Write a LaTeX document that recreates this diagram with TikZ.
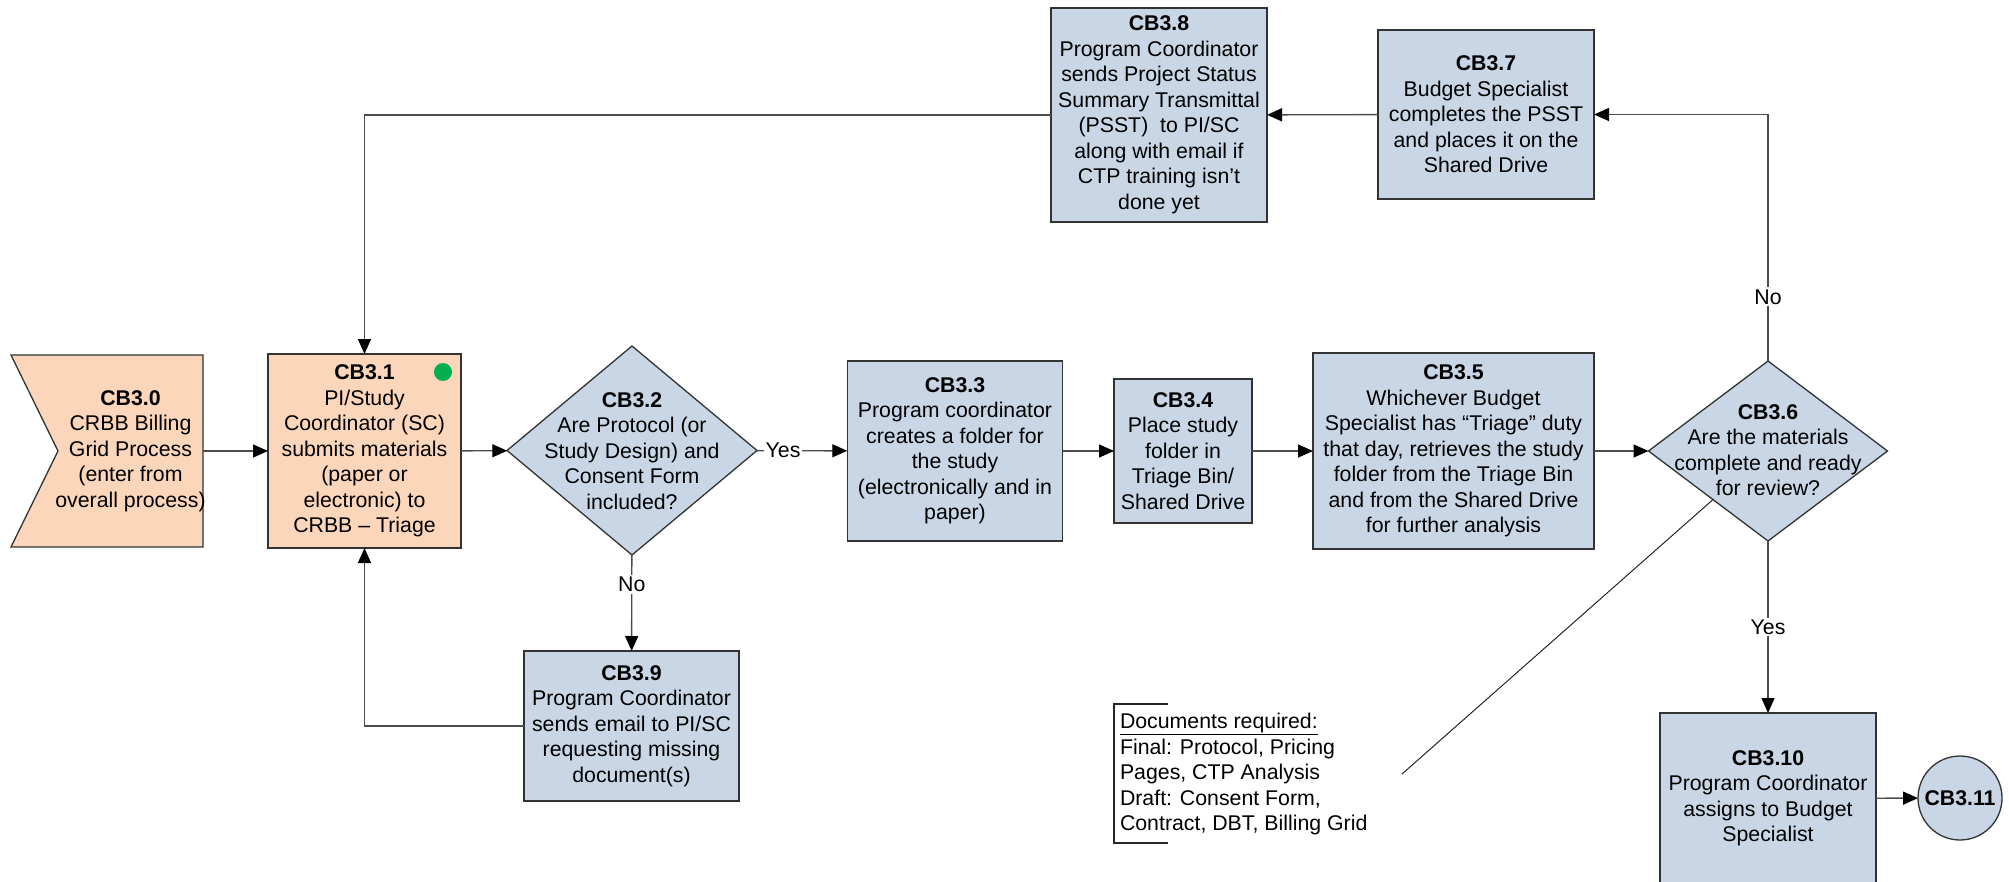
\documentclass[tikz,border=0pt]{standalone}
\usepackage{fontspec}
\setmainfont{Liberation Sans}
\usetikzlibrary{arrows.meta,shapes.geometric}
\definecolor{peach}{RGB}{251,214,186}
\definecolor{paleblue}{RGB}{200,214,230}
\definecolor{dotgreen}{RGB}{0,176,80}
\begin{document}
\begin{tikzpicture}[x=1pt,y=-1pt,
  txt/.style={font=\fontsize{21.3}{25.5}\selectfont, align=center, inner sep=0pt, outer sep=0pt},
  proc/.style={txt, draw=black!80, line width=1.3pt, fill=paleblue, inner sep=2pt},
  startbox/.style={proc, fill=peach},
  decide/.style={diamond, draw=black!80, line width=1.3pt, fill=paleblue, inner sep=0pt, outer sep=0pt},
  flow/.style={draw=black!70, line width=1.4pt, -{Triangle[length=15pt,width=13pt,color=black]}},
  lbl/.style={txt, fill=white, inner sep=2pt},
]
\useasboundingbox (0,0) rectangle (2009,882);

% entry from the overall process (notched box)
\node[minimum width=192pt, minimum height=192pt, inner sep=0pt, outer sep=0pt] (cb30) at (107,451) {};
\filldraw[fill=peach, draw=black!80, line width=1.3pt]
  (cb30.north west) -- (cb30.north east) -- (cb30.south east) -- (cb30.south west)
  -- ([xshift=47pt]cb30.west) -- cycle;
\node[txt] (cb30text) at (130.5,451) {\textbf{CB3.0}\\CRBB Billing\\Grid Process\\(enter from\\overall process)};

% process steps
\node[startbox, minimum width=193pt, minimum height=194pt] (cb31) at (364.5,451)
  {\textbf{CB3.1}\\PI/Study\\Coordinator (SC)\\submits materials\\(paper or\\electronic) to\\CRBB – Triage};
\node[circle, fill=dotgreen, minimum size=18pt, inner sep=0pt] (dot) at (443,372) {};

\node[decide, minimum width=250pt, minimum height=209pt] (cb32) at (632,450.5) {};
\node[txt] (cb32text) at (632,451) {\textbf{CB3.2}\\Are Protocol (or\\Study Design) and\\Consent Form\\included?};

\node[proc, minimum width=215.5pt, minimum height=180pt] (cb33) at (955,451)
  {\textbf{CB3.3}\\Program coordinator\\creates a folder for\\the study\\(electronically and in\\paper)};
\node[proc, minimum width=138pt, minimum height=144pt] (cb34) at (1183,451)
  {\textbf{CB3.4}\\Place study\\folder in\\Triage Bin/\\Shared Drive};
\node[proc, minimum width=281pt, minimum height=196pt] (cb35) at (1453.5,451)
  {\textbf{CB3.5}\\Whichever Budget\\Specialist has “Triage” duty\\that day, retrieves the study\\folder from the Triage Bin\\and from the Shared Drive\\for further analysis};

\node[decide, minimum width=239pt, minimum height=180pt] (cb36) at (1768,451) {};
\node[txt] (cb36text) at (1768,450) {\textbf{CB3.6}\\Are the materials\\complete and ready\\for review?};

\node[proc, minimum width=216pt, minimum height=169pt] (cb37) at (1486,114.5)
  {\textbf{CB3.7}\\Budget Specialist\\completes the PSST\\and places it on the\\Shared Drive};
\node[proc, minimum width=216pt, minimum height=214pt] (cb38) at (1159,115)
  {\textbf{CB3.8}\\Program Coordinator\\sends Project Status\\Summary Transmittal\\(PSST)\ \ to PI/SC\\along with email if\\CTP training isn’t\\done yet};
\node[proc, minimum width=215pt, minimum height=150pt] (cb39) at (631.5,726)
  {\textbf{CB3.9}\\Program Coordinator\\sends email to PI/SC\\requesting missing\\document(s)};
\node[proc, minimum width=216pt, minimum height=171pt] (cb310) at (1768,798.5)
  {\textbf{CB3.10}\\Program Coordinator\\assigns to Budget\\Specialist};
\node[txt, circle, draw=black!80, line width=1.3pt, fill=paleblue, minimum size=84pt] (cb311) at (1960,798)
  {\textbf{CB3.11}};

% annotation listing the required documents
\node[txt, align=left, anchor=west] (note) at (1120,774)
  {\underline{Documents required:}\\Final: Protocol, Pricing\\Pages, CTP Analysis\\Draft: Consent Form,\\Contract, DBT, Billing Grid};
\coordinate (bracktop) at (1168,704);
\coordinate (brackbot) at (1168,843);
\draw[black!85, line width=1.2pt] (bracktop) -- (1114,704) -- (1114,843) -- (brackbot);
\coordinate (noteend) at (1402,774);
\draw[black!85, line width=1pt] (cb36) -- (noteend);

% connectors
\draw[flow] (cb30.east) -- (cb31.west);
\draw[flow] (cb31) -- (cb32);
\draw[flow] (cb32) -- node[lbl, pos=0.29] (yes1) {Yes} (cb33);
\draw[flow] (cb32) -- node[lbl, pos=0.31] (no1) {No} (cb39);
\draw[flow] (cb39.west) -| (cb31.south);
\draw[flow] (cb33) -- (cb34);
\draw[flow] (cb34) -- (cb35);
\draw[flow] (cb35) -- (cb36);
\draw[flow] (cb36.north) |- node[lbl, pos=0.13] (no2) {No} (cb37.east);
\draw[flow] (cb37) -- (cb38);
\draw[flow] (cb38.west) -| (cb31.north);
\draw[flow] (cb36) -- node[lbl, pos=0.5] (yes2) {Yes} (cb310);
\draw[flow] (cb310) -- (cb311);
\end{tikzpicture}
\end{document}
